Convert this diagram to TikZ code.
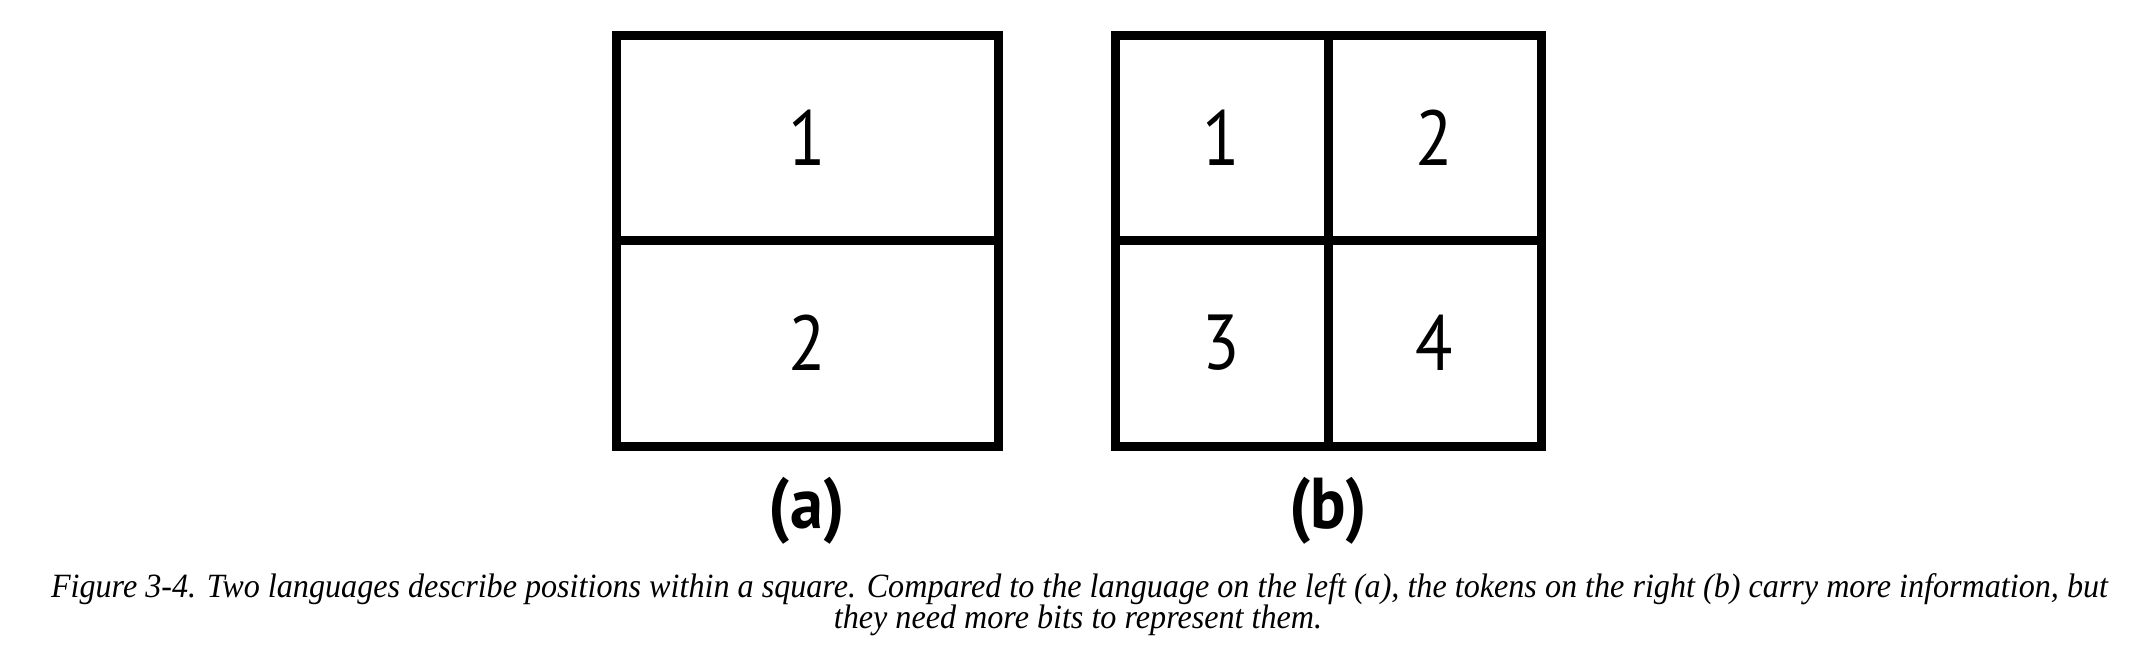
\documentclass[tikz,border=0pt]{standalone}
\usepackage{graphicx}
\usepackage{fontspec}
\newfontfamily\digitfont{PT Sans}
\newfontfamily\capfont{Liberation Serif}
\newsavebox\capboxa
\AtBeginDocument{%
  \global\setbox\capboxa=\hbox{\capfont\itshape\fontsize{17}{17}\selectfont Figure 3-4. Two languages describe positions within a square. Compared to the language on the left (a), the tokens on the right (b) carry more information, but}%
  \pgfmathsetmacro\capsxtmp{1028.5/\the\wd\capboxa}%
  \xdef\capsx{\capsxtmp}}
\begin{document}
\begin{tikzpicture}[x=0.5pt,y=-0.5pt,
  box/.style={line width=4.5pt},
  digit/.style={font=\digitfont\fontsize{39}{39}\selectfont, inner sep=0pt},
  sublabel/.style={font=\digitfont\bfseries\fontsize{36}{36}\selectfont, inner sep=0pt},
  captext/.style={font=\capfont\itshape\fontsize{17}{17}\selectfont, inner sep=0pt, anchor=base}]
\useasboundingbox (0,0) rectangle (2146,664);
% (a)
\draw[box] (616,35) rectangle (998,446);
\draw[box] (616,240) -- (998,240);
\node[digit] (a1) at (807,137.5) {\scalebox{0.88}[1]{1}};
\node[digit] (a2) at (807,343) {\scalebox{0.88}[1]{2}};
\node[sublabel] (la) at (807,511) {\scalebox{0.92}[1]{(a)}};
% (b)
\draw[box] (1115,35) rectangle (1541,446);
\draw[box] (1115,240) -- (1541,240);
\draw[box] (1328,35) -- (1328,446);
\node[digit] (b1) at (1221.5,137.5) {\scalebox{0.88}[1]{1}};
\node[digit] (b2) at (1434.5,137.5) {\scalebox{0.88}[1]{2}};
\node[digit] (b3) at (1221.5,343) {\scalebox{0.88}[1]{3}};
\node[digit] (b4) at (1434.5,343) {\scalebox{0.88}[1]{4}};
\node[sublabel] (lb) at (1328,511) {\scalebox{0.92}[1]{(b)}};
% caption
\node[captext] (cap1) at (1079.5,597) {\scalebox{\capsx}[1]{\usebox\capboxa}};
\node[captext] (cap2) at (1078,628) {\scalebox{\capsx}[1]{they need more bits to represent them.}};
\end{tikzpicture}
\end{document}
